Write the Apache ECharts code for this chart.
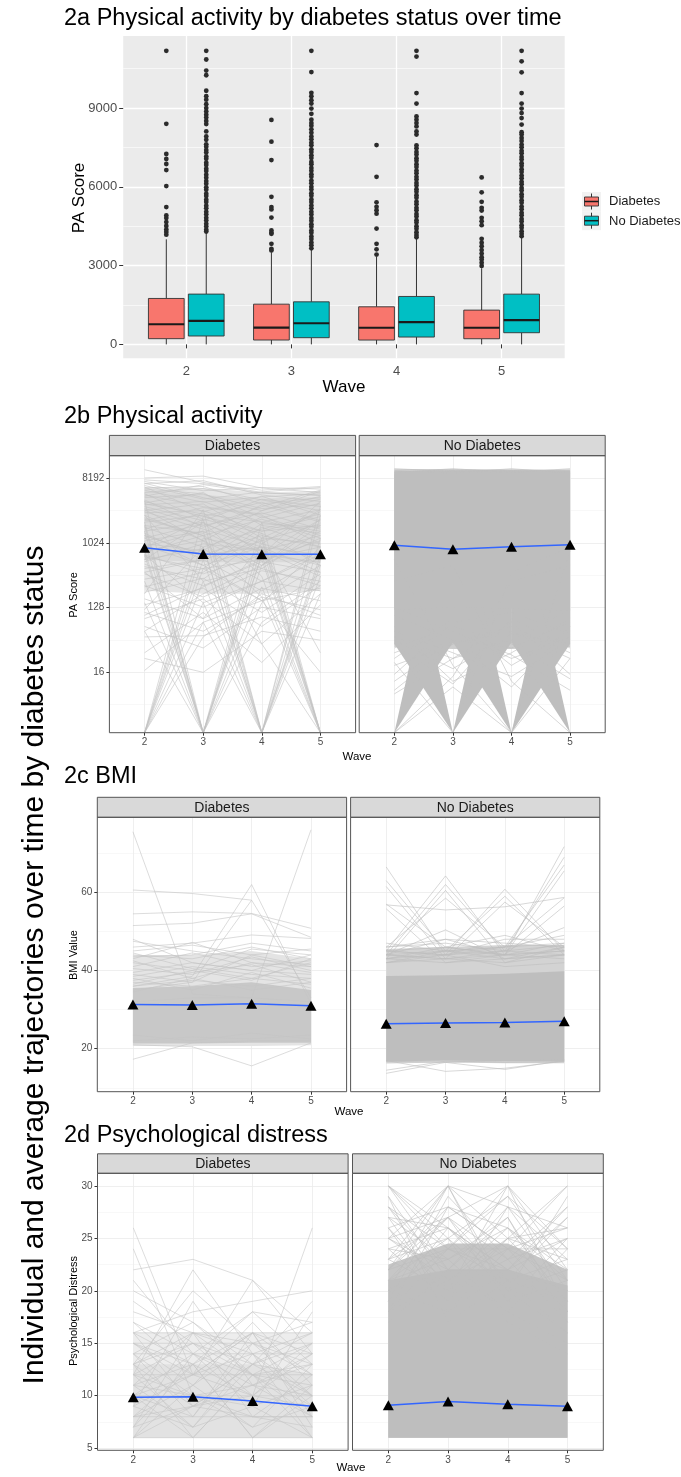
<!DOCTYPE html>
<html><head><meta charset="utf-8">
<script src="https://cdn.jsdelivr.net/npm/echarts@6/dist/echarts.min.js"></script>
<style>html,body{margin:0;padding:0;background:#fff}#c{width:681px;height:1477px}</style>
</head><body><div id="c"></div>
<script>
// ---------------- DATA ----------------
const waves = [2, 3, 4, 5];
const groups = ['Diabetes', 'No Diabetes'];
const panelTitles = ['2a Physical activity by diabetes status over time', '2b Physical activity', '2c BMI', '2d Psychological distress'];
const sideTitle = 'Individual and average trajectories over time by diabetes status';

// 2a boxplot stats per wave: [lower whisker, Q1, median, Q3, upper whisker]
const boxDiabetes = [[0, 217, 766, 1749, 4000], [0, 166, 638, 1532, 3510], [0, 165, 634, 1432, 3330], [0, 215, 634, 1305, 2900]];
const boxNoDiabetes = [[0, 319, 894, 1915, 4290], [0, 255, 804, 1621, 3640], [0, 279, 849, 1825, 4056], [0, 444, 925, 1914, 4094]];
// 2a outliers
const outDiabetesW2 = [11180, 8400, 7250, 7060, 6870, 6640, 6030, 5230, 4910, 4810, 4660, 4510, 4380, 4280, 4180];
const outDiabetesW3 = [8550, 7720, 7020, 5620, 5230, 5140, 4830, 4340, 4250, 4210, 3830, 3640, 3580];
const outDiabetesW4 = [7590, 6380, 5410, 5240, 5110, 4980, 4410, 3830, 3620, 3420];
const outDiabetesW5 = [6360, 5790, 5430, 5200, 5100, 4820, 4690, 4540, 4020, 3870, 3740, 3590, 3460, 3320, 3230, 3110, 2990];
const outNoDiabetesW2 = [11180, 10850, 10430, 10250, 9660, 9450, 9320, 9150, 9000, 8870, 8750, 8640, 8510, 8390, 8110, 7920, 7790, 7620, 7530, 7400, 7310, 7160, 7070, 6920, 6830, 6690, 6600, 6460, 6350, 6220, 6120, 5980, 5890, 5740, 5650, 5510, 5420, 5280, 5180, 5050, 4950, 4820, 4720, 4590, 4490, 4370, 4300];
const outNoDiabetesW3 = [11180, 10370, 9580, 9450, 9300, 9170, 8980, 8780, 8560, 8430, 8330, 8190, 8060, 7920, 7810, 7680, 7580, 7430, 7330, 7200, 7100, 6950, 6860, 6720, 6610, 6480, 6380, 6240, 6140, 6000, 5900, 5760, 5660, 5520, 5420, 5290, 5180, 5050, 4950, 4810, 4710, 4580, 4480, 4340, 4250, 4110, 4010, 3880, 3780, 3660];
const outNoDiabetesW4 = [11180, 10960, 9570, 9170, 8680, 8560, 8430, 8300, 8110, 7990, 7580, 7470, 7330, 7230, 7090, 6990, 6860, 6760, 6620, 6520, 6380, 6280, 6150, 6050, 5910, 5810, 5680, 5580, 5440, 5340, 5200, 5110, 4970, 4870, 4730, 4640, 4500, 4400, 4270, 4170, 4080];
const outNoDiabetesW5 = [11180, 10780, 10360, 9570, 9170, 8980, 8810, 8620, 8370, 8080, 7990, 7860, 7750, 7610, 7510, 7370, 7280, 7140, 7040, 6900, 6800, 6670, 6570, 6430, 6330, 6190, 6100, 5960, 5860, 5720, 5620, 5490, 5390, 5250, 5150, 5010, 4920, 4780, 4680, 4540, 4440, 4310, 4210, 4120];

// 2b Physical activity trajectories [wave2, wave3, wave4, wave5] (0 = no activity)
const paDiabetes = [
 [10800, 7200, 5200, 4700], [8300, 8800, 6000, 5200], [7800, 6900, 5600, 6300], [7400, 5500, 6100, 5800],
 [6900, 7600, 4800, 3900], [6500, 4200, 5300, 6100], [6000, 6300, 3600, 4400], [5600, 3800, 4500, 5000],
 [5200, 5900, 4100, 2900], [4800, 3300, 2600, 4200], [4400, 4900, 3100, 3500], [3900, 2400, 3800, 2100],
 [3500, 3900, 2000, 3000], [3100, 1800, 2700, 1600], [2700, 2900, 1500, 2400], [2300, 1300, 2200, 1200],
 [2000, 2500, 1100, 1900], [1700, 900, 1600, 2600], [1500, 2000, 800, 1300], [1300, 700, 1300, 900],
 [1100, 1500, 600, 1100], [950, 500, 900, 700], [800, 1100, 450, 1500], [700, 380, 700, 550],
 [600, 850, 300, 800], [520, 260, 560, 400], [450, 600, 220, 650], [380, 180, 420, 300],
 [320, 450, 160, 500], [260, 130, 300, 220], [210, 330, 110, 380], [170, 90, 240, 160],
 [140, 240, 70, 260], [110, 60, 180, 120], [90, 170, 40, 200], [70, 35, 130, 90],
 [50, 52, 95, 60], [30, 110, 22, 140], [17, 80, 160, 240], [25, 16, 60, 45],
 [1200, 500, 160, 16], [2800, 1600, 900, 30], [60, 200, 500, 1800], [400, 90, 1000, 3000],
 [7000, 4400, 2900, 5400], [6200, 2800, 4600, 2500], [5800, 5000, 2300, 3700], [4600, 6700, 5100, 4800],
 [4100, 1700, 3300, 5600], [3700, 5200, 1800, 1400], [3300, 2100, 4200, 3300], [2900, 3600, 1200, 2800],
 [2500, 1100, 2900, 4600], [2100, 3200, 2500, 1000], [1800, 1400, 3500, 2000], [1600, 2700, 700, 3900],
 [1400, 600, 1900, 1700], [1200, 1900, 1000, 600], [1000, 800, 2400, 1300], [880, 2200, 1400, 500],
 [760, 1300, 500, 2200], [660, 450, 1700, 900], [560, 1000, 800, 350], [480, 320, 1200, 1000],
 [0, 450, 600, 900], [0, 1200, 800, 500], [0, 150, 300, 700], [0, 2400, 1500, 1800], [0, 80, 0, 350],
 [0, 600, 1100, 0], [0, 300, 450, 260], [0, 50, 200, 100], [0, 900, 0, 500],
 [700, 0, 500, 1200], [2000, 0, 900, 400], [300, 0, 0, 600], [1100, 0, 2000, 1500], [150, 0, 250, 0],
 [4000, 0, 700, 2200], [800, 0, 1200, 0], [60, 0, 80, 300], [1500, 0, 150, 900], [1800, 0, 700, 0],
 [900, 1500, 0, 700], [400, 600, 0, 2500], [2500, 300, 0, 200], [120, 900, 0, 0], [5000, 2200, 0, 3400],
 [200, 3000, 0, 1200], [700, 150, 0, 0],
 [1300, 700, 900, 0], [600, 2000, 350, 0], [3000, 1100, 180, 0], [250, 400, 1400, 0], [3600, 2600, 2000, 0],
 [2200, 1300, 40, 0], [100, 250, 600, 0]
];
const paNoDiabetes = [
 [11180, 10200, 10600, 10000], [9800, 11180, 9900, 10800], [10500, 9700, 11180, 9600], [10100, 10400, 9800, 11180],
 [10900, 10800, 10300, 10500],
 [30, 60, 25, 50], [20, 40, 70, 30], [12, 45, 35, 80], [45, 18, 55, 40], [60, 30, 14, 45],
 [35, 70, 40, 13], [25, 90, 20, 60], [9, 40, 60, 25], [70, 12, 30, 90], [50, 25, 80, 15],
 [15, 80, 110, 55], [100, 45, 10, 70], [8, 25, 45, 120], [40, 11, 90, 35], [130, 60, 28, 9],
 [0, 14, 300, 500], [22, 0, 400, 900], [600, 20, 0, 800], [300, 500, 12, 0], [0, 10, 0, 25]
];
// dense trajectory envelopes per wave (low / high)
const paDiabetesOuterLo = [220, 200, 200, 220], paDiabetesOuterHi = [6200, 6000, 5200, 5500];
const paDiabetesInnerLo = [600, 550, 550, 550], paDiabetesInnerHi = [5600, 4800, 4300, 4500];
const paNoDiabetesOuterLo = [36, 34, 34, 36], paNoDiabetesOuterHi = [10800, 11000, 11000, 10800];
const paNoDiabetesInnerLo = [120, 130, 125, 115], paNoDiabetesInnerHi = [10300, 10600, 10600, 10400];
// fans of trajectories starting at 0: [wave at 0, neighbour wave, low, high]
const paNoDiabetesFans = [[2, 3, 42, 10000], [3, 2, 40, 10000], [3, 4, 42, 10000], [4, 3, 42, 10000], [4, 5, 40, 10000], [5, 4, 42, 10000]];
const paMeanDiabetes = [880, 720, 715, 715];
const paMeanNoDiabetes = [950, 840, 910, 965];
const paTicks = [16, 128, 1024, 8192];

// 2c BMI trajectories
const bmiDiabetes = [
 [75.5, 34, 33, 32], [32, 33, 33, 76], [36, 38.5, 62, 31.5], [35, 37, 58, 33], [60.6, 59.7, 58.0, null],
 [54.5, 55.0, 54.6, 50.8], [51.5, 52.1, 54.5, 48.5], [46, 47, 49.1, 48.2], [48, 42, 40, 39],
 [17.3, 21.5, 22, 22], [21, 20.5, 15.6, 21.5],
 [45, 46.5, 44, 45.5], [44, 43, 46, 43], [43, 47.2, 42, 41], [42, 40, 45.5, 44], [41, 44.5, 41, 42.5],
 [40.5, 39, 43.5, 40], [39.5, 42, 40, 44], [38.5, 41, 39, 38], [42.5, 38, 42, 39.5], [44.5, 40.5, 38, 42],
 [37.5, 39.5, 41.5, 37], [39, 37, 44, 41], [47.5, 45, 43, 41.5], [36.5, 40, 37.5, 43], [43.5, 44, 47, 45],
 [37, 36, 38, 36.5], [36, 37.5, 36, 38], [38, 35, 39.5, 35.5], [34.5, 38, 35, 37], [22, 23, 22.5, 23.5], [23.5, 22, 24, 22.5]
];
const bmiNoDiabetes = [
 [66.5, 44, 41, 42], [63, 45, 43, 44], [61.5, 43, 42, 44], [57, 46, 44, 45], [55.8, 42, 43, 46],
 [45, 64.2, 44, 43], [44, 62, 45, 44], [43, 60.5, 42, 46], [46, 58.5, 46, 47], [44, 50.4, 43, 44], [46, 48, 44, 45],
 [42, 44, 60.8, 45], [43, 45, 59, 44], [44, 43, 57.5, 46], [45, 46, 49, 45],
 [44, 45, 44, 71.7], [43, 44, 45, 69], [45, 44, 46, 67], [44, 43, 44, 65.5], [42, 45, 46, 58.6], [43, 42, 44, 56.5],
 [56.8, 55.5, 56.3, 58.7],
 [13.7, 16.5, 17, 17.2], [14.5, 16.8, 16.5, 16.7], [17, 14.2, 15, 16.8], [16.8, 16.5, 14.7, 17],
 [47, 45, 46, 49], [46, 47, 45, 51], [44, 48, 47, 46], [45, 44, 48, 48], [43, 46, 44, 47], [42, 43, 45, 46.5]
];
const bmiDiabetesOuterLo = [20.7, 20.7, 20.7, 20.9], bmiDiabetesOuterHi = [44, 44, 45, 43];
const bmiDiabetesInnerLo = [21.3, 21.3, 21.5, 21.5], bmiDiabetesInnerHi = [35.5, 36, 37, 35];
const bmiNoDiabetesOuterLo = [16.2, 16.5, 16.3, 16.3], bmiNoDiabetesOuterHi = [45.5, 46, 46.5, 46.5];
const bmiNoDiabetesInnerLo = [16.7, 17, 16.8, 16.8], bmiNoDiabetesInnerHi = [38.6, 38.8, 39.2, 39.8];
const bmiMeanDiabetes = [31.3, 31.2, 31.5, 31.0];
const bmiMeanNoDiabetes = [26.4, 26.6, 26.7, 27.0];
const bmiTicks = [20, 40, 60];

// 2d Psychological distress trajectories
const pdDiabetes = [
 [26, 12, 10, 9], [24, 10, 8, 8], [22, 23, 21, 16], [12, 22, 14, 10], [8, 9, 10, 26], [16, 18, 19, 20],
 [21, 14, 12, 11], [19, 15, 13, 12], [10, 12, 21, 14], [9, 19, 11, 10], [11, 13, 18, 17], [12, 10, 9, 18],
 [18, 16, 15, 13], [14, 17, 12, 15], [16, 13, 16, 12], [13, 16, 14, 16], [15, 11, 17, 11], [17, 14, 11, 13],
 [7, 16, 8, 12], [10, 8, 16, 7], [15, 15, 15, 15], [14, 14, 14, 14], [13, 15, 12, 9], [11, 7, 13, 16],
 [16, 16, 16, 16], [12, 12, 12, 12], [6, 11, 7, 13], [13, 6, 12, 8], [8, 13, 6, 11], [9, 7, 14, 6],
 [11, 10, 7, 9], [7, 9, 11, 8], [10, 14, 9, 6], [6, 6, 6, 6], [8, 8, 8, 8], [20, 17, 13, 10],
 [13, 20, 15, 17], [6, 14, 18, 13], [16, 9, 13, 19], [15, 13, 6, 10], [14, 8, 15, 12], [12, 15, 10, 14],
 [9, 12, 16, 8], [7, 13, 10, 15], [10, 6, 12, 13], [13, 9, 8, 7], [11, 16, 12, 6], [15, 12, 14, 9],
 [6, 9, 13, 15], [8, 11, 15, 10], [14, 10, 11, 14], [12, 7, 9, 11], [17, 12, 16, 14], [10, 10, 10, 10]
];
const pdNoDiabetes = [
 [30, 22, 18, 15], [22, 30, 20, 16], [18, 24, 30, 22], [20, 18, 22, 28], [30, 25, 17, 14], [25, 30, 28, 20],
 [28, 20, 30, 24], [26, 28, 24, 30], [29, 17, 21, 19], [23, 27, 19, 25], [21, 23, 27, 18], [27, 19, 25, 23],
 [24, 26, 22, 27], [19, 29, 23, 17], [25, 21, 26, 21], [30, 26, 20, 22], [22, 24, 24, 24], [17, 22, 22, 20],
 [20, 30, 25, 26], [26, 20, 23, 28], [23, 25, 29, 21], [28, 24, 21, 16], [21, 27, 23, 25], [18, 21, 25, 19],
 [24, 19, 28, 23], [27, 23, 18, 24], [22, 28, 26, 19], [30, 24, 22, 20], [25, 27, 30, 18], [19, 26, 21, 27],
 [26, 18, 24, 26], [23, 30, 19, 21], [28, 22, 27, 17], [21, 25, 20, 29], [24, 23, 26, 22], [27, 26, 22, 25],
 [20, 24, 29, 24], [29, 21, 24, 18], [22, 27, 21, 23], [18, 28, 24, 21], [25, 22, 28, 26], [23, 20, 25, 30]
];
const pdDiabetesOuterLo = [6, 6, 6, 6], pdDiabetesOuterHi = [16, 16, 16, 16];
const pdDiabetesInnerLo = [6, 6, 6, 6], pdDiabetesInnerHi = [13, 13, 13, 12];
const pdNoDiabetesOuterLo = [6, 6, 6, 6], pdNoDiabetesOuterHi = [22.5, 24.5, 24.5, 22];
const pdNoDiabetesInnerLo = [6, 6, 6, 6], pdNoDiabetesInnerHi = [21, 22, 22, 20.5];
const pdMeanDiabetes = [9.85, 9.9, 9.5, 9.0];
const pdMeanNoDiabetes = [9.1, 9.45, 9.2, 9.0];
const pdTicks = [5, 10, 15, 20, 25, 30];
const boxTicks = [0, 3000, 6000, 9000];

// ---------------- CHART ----------------
const FONT = '"Liberation Sans", Arial, Helvetica, sans-serif';
const DODGE = 0.19, BOXW = 0.34;
const PA_MIN = 0.2, PA_MAX = 13.05;
// log2 scale (shifted so ticks fall on multiples of 3); zeros drawn at the panel bottom as in ggplot (-Inf)
const paT = v => (v === null ? null : (v > 0 ? Math.log2(v) - 1 : PA_MIN));
const idT = v => v;

const panels = [
  {x: 123.2, y: 36, w: 441.5, h: 322.3},
  {x: 109.4, y: 455.7, w: 246.2, h: 277},
  {x: 359.2, y: 455.7, w: 246.0, h: 277},
  {x: 97.3, y: 817.3, w: 249.3, h: 274.4},
  {x: 350.6, y: 817.3, w: 249.2, h: 274.4},
  {x: 97.5, y: 1173.3, w: 250.6, h: 277},
  {x: 352.5, y: 1173.3, w: 250.8, h: 277}
];

const grid = panels.map((p, i) => ({left: p.x, top: p.y, width: p.w, height: p.h, show: i === 0, backgroundColor: '#EBEBEB', borderWidth: 0, containLabel: false}));

const xAxis = panels.map((p, i) => ({
  type: 'value', gridIndex: i, min: 1.4, max: 5.6,
  axisLine: {show: false},
  axisTick: {show: true, length: i === 0 ? 4 : 3, lineStyle: {color: '#333', width: 1}, customValues: waves},
  axisLabel: {fontSize: i === 0 ? 13 : 10, color: '#4D4D4D', margin: i === 0 ? 7 : 5, fontFamily: FONT, customValues: waves,
    formatter: v => (Number.isInteger(v) ? String(v) : '')},
  splitLine: {show: true, lineStyle: {color: i === 0 ? '#FFFFFF' : '#EBEBEB', width: i === 0 ? 1.3 : 0.8}},
  minorTick: {show: false}, minorSplitLine: {show: false}
}));

function yAx(i, min, max, splitNumber, ticks, fmt) {
  const left = (i === 0 || i % 2 === 1);
  const bg = i === 0;
  return {
    type: 'value', gridIndex: i, min, max, splitNumber,
    axisLine: {show: false},
    axisTick: {show: left, length: bg ? 4 : 3, lineStyle: {color: '#333', width: 1}, customValues: ticks},
    axisLabel: {show: left, fontSize: bg ? 13 : 10, color: '#4D4D4D', margin: bg ? 6 : 5, fontFamily: FONT, customValues: ticks, formatter: fmt},
    splitLine: {show: true, lineStyle: {color: bg ? '#FFFFFF' : '#EBEBEB', width: bg ? 1.3 : 0.8}},
    minorTick: {show: false, splitNumber: 2},
    minorSplitLine: {show: true, lineStyle: {color: bg ? '#FFFFFF' : '#F3F3F3', width: 0.6}}
  };
}
const paFmt = t => String(Math.round(Math.pow(2, t + 1)));
const numFmt = v => String(Math.round(v));
const yAxis = [
  yAx(0, -530, 11745, 4, boxTicks, numFmt),
  yAx(1, PA_MIN, PA_MAX, 5, paTicks.map(paT), paFmt),
  yAx(2, PA_MIN, PA_MAX, 5, paTicks.map(paT), paFmt),
  yAx(3, 9.0, 79.2, 3, bmiTicks, numFmt),
  yAx(4, 9.0, 79.2, 3, bmiTicks, numFmt),
  yAx(5, 4.8, 31.2, 5, pdTicks, numFmt),
  yAx(6, 4.8, 31.2, 5, pdTicks, numFmt)
];

function boxSeries(stats, offset, fill) {
  return {
    type: 'custom', coordinateSystem: 'cartesian2d', xAxisIndex: 0, yAxisIndex: 0, z: 3, silent: true,
    data: stats.map((s, i) => [waves[i] + offset].concat(s)),
    renderItem: (params, api) => {
      const x = api.value(0);
      const lo = api.coord([x, api.value(1)]), q1 = api.coord([x, api.value(2)]), md = api.coord([x, api.value(3)]);
      const q3 = api.coord([x, api.value(4)]), hi = api.coord([x, api.value(5)]);
      const w = api.size([BOXW, 0])[0];
      const cx = lo[0];
      return {type: 'group', children: [
        {type: 'line', shape: {x1: cx, y1: hi[1], x2: cx, y2: q3[1]}, style: {stroke: '#333', lineWidth: 1}},
        {type: 'line', shape: {x1: cx, y1: q1[1], x2: cx, y2: lo[1]}, style: {stroke: '#333', lineWidth: 1}},
        {type: 'rect', shape: {x: cx - w / 2, y: q3[1], width: w, height: q1[1] - q3[1]}, style: {fill: fill, stroke: '#333', lineWidth: 0.9}},
        {type: 'line', shape: {x1: cx - w / 2, y1: md[1], x2: cx + w / 2, y2: md[1]}, style: {stroke: '#1A1A1A', lineWidth: 2.2}}
      ]};
    }
  };
}
function outlierSeries(lists, offset) {
  const data = [];
  lists.forEach((l, i) => l.forEach(v => data.push([waves[i] + offset, v])));
  return {type: 'scatter', xAxisIndex: 0, yAxisIndex: 0, z: 4, silent: true, data, symbolSize: 4.8, itemStyle: {color: '#2B2B2B', opacity: 1}};
}
function bandSeries(g, lo, hi, tf, color) {
  return {
    type: 'custom', coordinateSystem: 'cartesian2d', xAxisIndex: g, yAxisIndex: g, z: 2, silent: true,
    data: [lo.map(tf).concat(hi.map(tf))],
    renderItem: (params, api) => {
      const pts = [];
      for (let k = 0; k < waves.length; k++) pts.push(api.coord([waves[k], api.value(waves.length + k)]));
      for (let k = waves.length - 1; k >= 0; k--) pts.push(api.coord([waves[k], api.value(k)]));
      return {type: 'polygon', shape: {points: pts}, style: {fill: color}};
    }
  };
}
function fanSeries(g, fans, tf, color) {
  return {
    type: 'custom', coordinateSystem: 'cartesian2d', xAxisIndex: g, yAxisIndex: g, z: 2, silent: true,
    data: fans.map(f => [f[0], f[1], tf(f[2]), tf(f[3])]),
    renderItem: (params, api) => {
      const a = api.coord([api.value(0), tf(0)]);
      const b = api.coord([api.value(1), api.value(2)]);
      const c = api.coord([api.value(1), api.value(3)]);
      return {type: 'polygon', shape: {points: [a, b, c]}, style: {fill: color}};
    }
  };
}
function trajSeries(g, rows, tf, color, width) {
  return {
    type: 'custom', coordinateSystem: 'cartesian2d', xAxisIndex: g, yAxisIndex: g, z: 3, silent: true,
    data: rows.map(r => r.map(v => (v === null ? '-' : tf(v)))),
    renderItem: (params, api) => {
      const children = [];
      let pts = [];
      const flush = () => {
        if (pts.length > 1) children.push({type: 'polyline', shape: {points: pts}, style: {stroke: color, lineWidth: width, fill: null}});
        pts = [];
      };
      for (let k = 0; k < waves.length; k++) {
        const v = api.value(k);
        if (v == null || isNaN(v)) { flush(); continue; }
        pts.push(api.coord([waves[k], v]));
      }
      flush();
      return {type: 'group', children};
    }
  };
}
function meanSeries(g, means, tf) {
  return {
    type: 'line', xAxisIndex: g, yAxisIndex: g, z: 6, silent: true,
    data: waves.map((w, i) => [w, tf(means[i])]),
    symbol: 'triangle', symbolSize: [11, 10], showSymbol: true,
    itemStyle: {color: '#000'}, lineStyle: {color: '#3366FF', width: 1.5}
  };
}

const series = [
  boxSeries(boxDiabetes, -DODGE, '#F8766D'),
  boxSeries(boxNoDiabetes, DODGE, '#00BFC4'),
  outlierSeries([outDiabetesW2, outDiabetesW3, outDiabetesW4, outDiabetesW5], -DODGE),
  outlierSeries([outNoDiabetesW2, outNoDiabetesW3, outNoDiabetesW4, outNoDiabetesW5], DODGE),
  // 2b
  bandSeries(1, paDiabetesOuterLo, paDiabetesOuterHi, paT, '#E6E6E6'),
  bandSeries(1, paDiabetesInnerLo, paDiabetesInnerHi, paT, '#DADADA'),
  trajSeries(1, paDiabetes, paT, '#C2C2C2', 0.6),
  meanSeries(1, paMeanDiabetes, paT),
  bandSeries(2, paNoDiabetesOuterLo, paNoDiabetesOuterHi, paT, '#CDCDCD'),
  fanSeries(2, paNoDiabetesFans, paT, '#BEBEBE'),
  bandSeries(2, paNoDiabetesInnerLo, paNoDiabetesInnerHi, paT, '#BEBEBE'),
  trajSeries(2, paNoDiabetes, paT, '#BEBEBE', 0.6),
  meanSeries(2, paMeanNoDiabetes, paT),
  // 2c
  bandSeries(3, bmiDiabetesOuterLo, bmiDiabetesOuterHi, idT, '#E4E4E4'),
  bandSeries(3, bmiDiabetesInnerLo, bmiDiabetesInnerHi, idT, '#C8C8C8'),
  trajSeries(3, bmiDiabetes, idT, '#C4C4C4', 0.6),
  meanSeries(3, bmiMeanDiabetes, idT),
  bandSeries(4, bmiNoDiabetesOuterLo, bmiNoDiabetesOuterHi, idT, '#D3D3D3'),
  bandSeries(4, bmiNoDiabetesInnerLo, bmiNoDiabetesInnerHi, idT, '#BEBEBE'),
  trajSeries(4, bmiNoDiabetes, idT, '#BEBEBE', 0.6),
  meanSeries(4, bmiMeanNoDiabetes, idT),
  // 2d
  bandSeries(5, pdDiabetesOuterLo, pdDiabetesOuterHi, idT, '#EDEDED'),
  bandSeries(5, pdDiabetesInnerLo, pdDiabetesInnerHi, idT, '#E2E2E2'),
  trajSeries(5, pdDiabetes, idT, '#C6C6C6', 0.6),
  meanSeries(5, pdMeanDiabetes, idT),
  bandSeries(6, pdNoDiabetesOuterLo, pdNoDiabetesOuterHi, idT, '#C6C6C6'),
  bandSeries(6, pdNoDiabetesInnerLo, pdNoDiabetesInnerHi, idT, '#BEBEBE'),
  trajSeries(6, pdNoDiabetes, idT, '#BEBEBE', 0.6),
  meanSeries(6, pdMeanNoDiabetes, idT)
];

// ---------------- GRAPHIC (titles, strips, borders, legend) ----------------
const G = [];
function txt(x, y, s, size, o) {
  o = o || {};
  G.push({type: 'text', x: x, y: y, rotation: o.rot || 0, scaleX: o.sx || 1, z: 100, silent: true,
    style: {text: s, x: 0, y: 0, fill: o.color || '#000', font: (o.weight || 'normal') + ' ' + size + 'px ' + FONT,
      textAlign: o.align || 'left', textVerticalAlign: 'middle'}});
}
txt(64, 19, panelTitles[0], 23.5);
txt(64, 417, panelTitles[1], 23.5);
txt(64, 777, panelTitles[2], 23.5);
txt(64, 1136, panelTitles[3], 23.5);
txt(35, 965, sideTitle, 30, {rot: Math.PI / 2, align: 'center'});
// axis titles
txt(79, 198, 'PA Score', 17, {rot: Math.PI / 2, align: 'center'});
txt(344, 387, 'Wave', 17, {align: 'center'});
txt(74, 595, 'PA Score', 11, {rot: Math.PI / 2, align: 'center'});
txt(357, 757, 'Wave', 11.5, {align: 'center'});
txt(74, 955, 'BMI Value', 11, {rot: Math.PI / 2, align: 'center'});
txt(349, 1112, 'Wave', 11.5, {align: 'center'});
txt(74, 1311, 'Psychological Distress', 11, {rot: Math.PI / 2, align: 'center'});
txt(351, 1468, 'Wave', 11.5, {align: 'center'});
// strips and borders
const stripH = [20.3, 20.3, 20, 20, 19.5, 19.5];
for (let i = 1; i < panels.length; i++) {
  const p = panels[i];
  const h = stripH[i - 1];
  G.push({type: 'rect', z: 99, silent: true, shape: {x: p.x, y: p.y - h, width: p.w, height: h}, style: {fill: '#D9D9D9', stroke: '#555', lineWidth: 1}});
  txt(p.x + p.w / 2, p.y - h / 2 + 0.5, groups[(i - 1) % 2], 14, {align: 'center', color: '#1A1A1A'});
  G.push({type: 'rect', z: 100, silent: true, shape: {x: p.x, y: p.y, width: p.w, height: p.h}, style: {fill: 'none', stroke: '#555', lineWidth: 1}});
}
// legend for 2a
const legFills = ['#F8766D', '#00BFC4'];
for (let k = 0; k < 2; k++) {
  const y0 = 192 + k * 19.2;
  G.push({type: 'rect', z: 100, silent: true, shape: {x: 582, y: y0, width: 19, height: 19}, style: {fill: '#F2F2F2'}});
  G.push({type: 'line', z: 101, silent: true, shape: {x1: 591.5, y1: y0 + 1.5, x2: 591.5, y2: y0 + 17.5}, style: {stroke: '#333', lineWidth: 1}});
  G.push({type: 'rect', z: 102, silent: true, shape: {x: 584.5, y: y0 + 5, width: 14, height: 9}, style: {fill: legFills[k], stroke: '#333', lineWidth: 0.9}});
  G.push({type: 'line', z: 103, silent: true, shape: {x1: 584.5, y1: y0 + 9.5, x2: 598.5, y2: y0 + 9.5}, style: {stroke: '#1A1A1A', lineWidth: 1.5}});
  txt(609, y0 + 9.8, groups[k], 13, {color: '#1A1A1A'});
}

const chart = echarts.init(document.getElementById('c'), null, {renderer: 'canvas'});
chart.setOption({
  animation: false,
  backgroundColor: '#FFFFFF',
  grid, xAxis, yAxis, series,
  graphic: {elements: G}
});
</script></body></html>
